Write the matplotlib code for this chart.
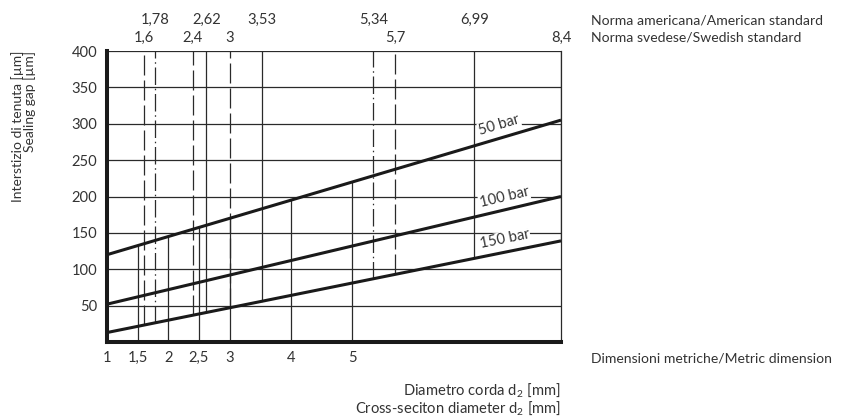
import numpy as np
import matplotlib
matplotlib.use("Agg")
import matplotlib.pyplot as plt
import matplotlib.transforms as mtransforms

FONTNAME = "Lato"
FONT = [FONTNAME, "DejaVu Sans"]
plt.rcParams["font.family"] = FONT
plt.rcParams["mathtext.fontset"] = "custom"
plt.rcParams["mathtext.rm"] = FONTNAME
plt.rcParams["mathtext.it"] = FONTNAME
plt.rcParams["mathtext.bf"] = FONTNAME

# ---------------- data ----------------
metric_d = [1, 1.5, 2, 2.5, 3, 4, 5]
metric_labels = ["1", "1,5", "2", "2,5", "3", "4", "5"]
american_d = [1.78, 2.62, 3.53, 5.34, 6.99]
american_labels = ["1,78", "2,62", "3,53", "5,34", "6,99"]
swedish_d = [1.6, 2.4, 3, 5.7, 8.4]
swedish_labels = ["1,6", "2,4", "3", "5,7", "8,4"]

d_range = [1.0, 8.4]
gap_50bar = [120, 305]
gap_100bar = [52, 200]
gap_150bar = [13, 139]
pressure_labels = ["50 bar", "100 bar", "150 bar"]
y_ticks = [50, 100, 150, 200, 250, 300, 350, 400]

# ---------------- styles ----------------
TXT = "#333333"
LINE = "#2a2a2a"
FS = 10.6
FS_SIDE = 10.1
DASH = (0, (16, 4))
DASHDOT = (0, (14, 3, 1.2, 3))
american_styles = [DASHDOT, "-", "-", DASHDOT, "-"]
swedish_styles = [DASH, DASH, DASH, DASH, "-"]

fig = plt.figure(figsize=(8.41, 4.19), dpi=100)
ax = fig.add_axes([107 / 841, 1 - 342 / 419, 454 / 841, 291 / 419])
ax.set_xlim(1, 8.4)
ax.set_ylim(0, 400)

# horizontal grid
for yv in y_ticks:
    ax.plot(d_range, [yv, yv], color=LINE, lw=0.9, zorder=1)

series = [gap_50bar, gap_100bar, gap_150bar]

# metric vertical lines: bottom up to the 50 bar line
for dv in metric_d[1:]:
    top = np.interp(dv, d_range, gap_50bar)
    ax.plot([dv, dv], [0, top], color=LINE, lw=0.9, zorder=1)

# standard vertical lines: from 150 bar line up to top
for dv, st in list(zip(american_d, american_styles)) + list(zip(swedish_d, swedish_styles)):
    bot = np.interp(dv, d_range, gap_150bar)
    ax.plot([dv, dv], [bot, 400], color=LINE, lw=0.9, linestyle=st, zorder=1)

# pressure lines
for vals in series:
    ax.plot(d_range, vals, color="#1a1a1a", lw=2.2, solid_capstyle="butt", zorder=3)

# labels on lines
label_d = 7.1
label_off = [8, 8, 8]
for vals, lab, off in zip(series, pressure_labels, label_off):
    slope = (vals[1] - vals[0]) / (d_range[1] - d_range[0])
    yv = np.interp(label_d, d_range, vals) + off
    ang = np.degrees(np.arctan(slope))
    ax.text(label_d, yv, lab, rotation=ang, rotation_mode="anchor",
            transform_rotates_text=True, ha="left", va="bottom",
            fontsize=FS, color=TXT, zorder=4,
            bbox=dict(facecolor="white", edgecolor="none", pad=0.5))

# spines
ax.spines["top"].set_visible(False)
ax.spines["right"].set_linewidth(0.9)
ax.spines["right"].set_color(LINE)
ax.spines["left"].set_linewidth(2.9)
ax.spines["bottom"].set_linewidth(2.9)
ax.spines["left"].set_color("#1a1a1a")
ax.spines["bottom"].set_color("#1a1a1a")

ax.set_yticks(y_ticks)
ax.set_yticklabels([str(v) for v in y_ticks], fontsize=FS, color=TXT)
ax.tick_params(axis="y", length=0, pad=7)
ax.set_xticks([])

tb = mtransforms.blended_transform_factory(ax.transData, ax.transAxes)
for dv, lab in zip(metric_d, metric_labels):
    ax.text(dv, -0.055, lab, transform=tb, ha="center", va="center", fontsize=FS, color=TXT)
for dv, lab in zip(american_d, american_labels):
    ax.text(dv, 1.1065, lab, transform=tb, ha="center", va="center", fontsize=FS, color=TXT)
for dv, lab in zip(swedish_d, swedish_labels):
    ax.text(dv, 1.0447, lab, transform=tb, ha="center", va="center", fontsize=FS, color=TXT)

ax.text(1.066, 1.1065, "Norma americana/American standard", transform=ax.transAxes,
        ha="left", va="center", fontsize=FS_SIDE, color=TXT)
ax.text(1.066, 1.0447, "Norma svedese/Swedish standard", transform=ax.transAxes,
        ha="left", va="center", fontsize=FS_SIDE, color=TXT)
ax.text(1.066, -0.055, "Dimensioni metriche/Metric dimension", transform=ax.transAxes,
        ha="left", va="center", fontsize=FS_SIDE, color=TXT)

ax.text(1.0, -0.165, r"Diametro corda d$_\mathrm{2}$ [mm]", transform=ax.transAxes,
        ha="right", va="center", fontsize=FS, color=TXT)
ax.text(1.0, -0.227, r"Cross-seciton diameter d$_\mathrm{2}$ [mm]", transform=ax.transAxes,
        ha="right", va="center", fontsize=FS, color=TXT)

ax.text(-0.198, 1.0, "Interstizio di tenuta [µm]", transform=ax.transAxes,
        rotation=90, ha="center", va="top", fontsize=10, color=TXT)
ax.text(-0.170, 1.0, "Sealing gap [µm]", transform=ax.transAxes,
        rotation=90, ha="center", va="top", fontsize=10, color=TXT)

fig.savefig("out.png", dpi=100)
